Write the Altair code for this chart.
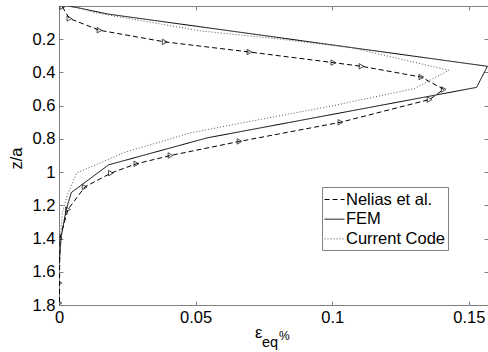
import altair as alt
import pandas as pd

# ---- data ----
series_names = ["Nelias et al.", "FEM", "Current Code"]

nelias_x = [0.0012, 0.0038, 0.0148, 0.0387, 0.0697, 0.1004, 0.1107, 0.1326, 0.1408, 0.1356,
            0.1030, 0.0661, 0.0408, 0.0283, 0.0190, 0.0094, 0.0033, 0.0003, 0.0002, 0.0002]
nelias_z = [0.005, 0.075, 0.146, 0.216, 0.277, 0.341, 0.363, 0.428, 0.502, 0.563,
            0.700, 0.815, 0.900, 0.950, 1.006, 1.090, 1.225, 1.399, 1.667, 1.788]

fem_x = [0.0035, 0.0079, 0.0181, 0.1568, 0.1528, 0.0542, 0.0182, 0.0045, 0.0026, 0.0008, 0.0001]
fem_z = [0.000, 0.014, 0.049, 0.363, 0.490, 0.794, 0.956, 1.123, 1.228, 1.389, 1.550]

code_x = [0.0030, 0.0080, 0.0126, 0.0519, 0.0811, 0.1068, 0.1427, 0.1299, 0.0994, 0.0701,
          0.0481, 0.0240, 0.0064, 0.0031, 0.0013, 0.0004, 0.0000]
code_z = [0.000, 0.013, 0.039, 0.150, 0.200, 0.250, 0.387, 0.498, 0.603, 0.694,
          0.764, 0.881, 1.006, 1.137, 1.240, 1.407, 1.500]

x_ticks = [0, 0.05, 0.1, 0.15]
y_ticks = [0.2, 0.4, 0.6, 0.8, 1.0, 1.2, 1.4, 1.6, 1.8]

rows = []
for name, xs, zs in [(series_names[0], nelias_x, nelias_z),
                     (series_names[1], fem_x, fem_z),
                     (series_names[2], code_x, code_z)]:
    for i, (a, b) in enumerate(zip(xs, zs)):
        rows.append({"series": name, "x": a, "z": b, "idx": i})
df = pd.DataFrame(rows)
df_nel = df[df["series"] == series_names[0]]

W, H = 429, 299
FONT = "Liberation Sans"
GRAY = "#808080"

xs = alt.Scale(domain=[0, 0.157], nice=False, zero=False)
ys = alt.Scale(domain=[0, 1.8], nice=False, zero=False, reverse=True)

legend = alt.Legend(
    title=None, orient="none", legendX=263, legendY=181,
    strokeColor=GRAY, fillColor="white", padding=2, rowPadding=0.7,
    symbolType="stroke", symbolSize=400, symbolStrokeWidth=1, labelOffset=1,
    labelFont=FONT, labelFontSize=16.5, labelColor="black",
)

main_x_axis = alt.Axis(orient="bottom", values=x_ticks, format="~g", grid=False, domain=False,
                       ticks=False, tickSize=0, labelPadding=4, labelFont=FONT,
                       labelFontSize=16.5, labelColor="black", labelFlush=False, title=None)
main_y_axis = alt.Axis(orient="left", values=y_ticks, format="~g", grid=False, domain=False,
                       ticks=False, tickSize=0, labelPadding=4, labelFont=FONT,
                       labelFontSize=16.5, labelColor="black", labelFlush=False, title="z/a",
                       titleFont=FONT, titleFontSize=16.5, titleFontWeight="normal",
                       titleColor="black", titleAngle=270, titleBaseline="alphabetic",
                       titleAlign="center", titleX=-38, titleY=152)


def tick_axis(orient, values, offset):
    return alt.Axis(orient=orient, values=values, offset=offset, grid=False, domain=False,
                    labels=False, ticks=True, tickSize=4, tickColor=GRAY, title=None)


lines = alt.Chart(df).mark_line(strokeWidth=1, clip=True).encode(
    x=alt.X("x:Q", scale=xs, axis=main_x_axis),
    y=alt.Y("z:Q", scale=ys, axis=main_y_axis),
    color=alt.Color("series:N", scale=alt.Scale(domain=series_names,
                                                range=["black", "black", "#555555"]),
                    legend=legend),
    strokeDash=alt.StrokeDash("series:N", scale=alt.Scale(domain=series_names,
                                                          range=[[5, 3], [1, 0], [1, 2]]),
                              legend=legend),
    order=alt.Order("idx:Q"),
)

points = alt.Chart(df_nel).mark_point(shape="triangle-right", filled=False, size=30,
                                      color="black", strokeWidth=1, clip=True).encode(
    x=alt.X("x:Q", scale=xs, axis=tick_axis("top", x_ticks, -H)),
    y=alt.Y("z:Q", scale=ys, axis=tick_axis("right", y_ticks, -W)),
)

top_ticks = alt.Chart(df_nel).mark_point(opacity=0).encode(
    x=alt.X("x:Q", scale=xs, axis=tick_axis("bottom", x_ticks, -H)),
    y=alt.Y("z:Q", scale=ys, axis=tick_axis("left", y_ticks, -W)),
)

one = pd.DataFrame({"k": [0]})
t_eps = alt.Chart(one).mark_text(text="ε", font=FONT, fontSize=16.5, align="left",
                                 baseline="alphabetic", color="black").encode(
    x=alt.value(196), y=alt.value(332))
t_eq = alt.Chart(one).mark_text(text="eq", font=FONT, fontSize=14.5, align="left",
                                baseline="alphabetic", color="black").encode(
    x=alt.value(203), y=alt.value(340.5))
t_pct = alt.Chart(one).mark_text(text="%", font=FONT, fontSize=12, align="left",
                                 baseline="alphabetic", color="black").encode(
    x=alt.value(220), y=alt.value(334))

chart = alt.layer(lines, points, top_ticks, t_eps, t_eq, t_pct).resolve_axis(
    x="independent", y="independent"
).properties(
    width=W, height=H, autosize="none",
    padding={"left": 59, "top": 6, "right": 0, "bottom": 47},
    background="white",
).configure_view(stroke=GRAY, strokeWidth=1)

chart.save("out.html", embed_options={"renderer": "svg", "actions": False})
